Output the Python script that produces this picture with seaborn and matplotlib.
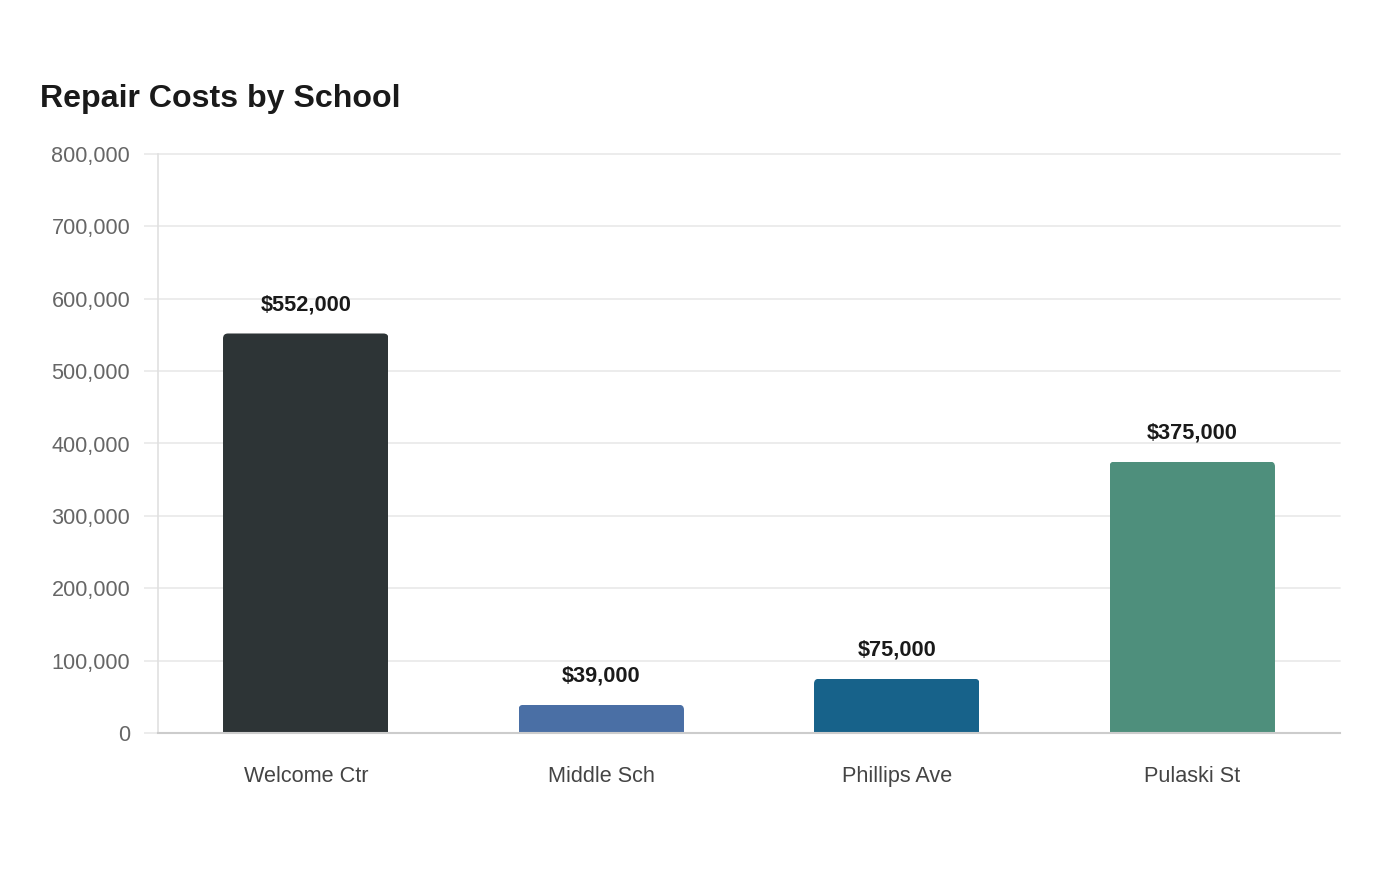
import matplotlib
matplotlib.use("Agg")
import matplotlib.pyplot as plt
import seaborn as sns
import pandas as pd
from matplotlib.patches import FancyBboxPatch
from matplotlib.ticker import FuncFormatter, MultipleLocator

schools = ["Welcome Ctr", "Middle Sch", "Phillips Ave", "Pulaski St"]
costs = [552000, 39000, 75000, 375000]
colors = ["#2d3436", "#4a6fa5", "#17628a", "#4e8f7c"]
title = "Repair Costs by School"

sns.set_theme(style="white")
plt.rcParams["font.family"] = ["Liberation Sans", "DejaVu Sans"]

df = pd.DataFrame({"school": schools, "cost": costs})

fig = plt.figure(figsize=(14, 8.8), dpi=100)
ax = fig.add_axes([158/1400, 1-733/880, (1340-158)/1400, (733-154)/880])

sns.barplot(data=df, x="school", y="cost", hue="school", palette=colors,
            width=0.56, legend=False, ax=ax, saturation=1, edgecolor="none")

ax.set_ylim(0, 800000)
ax.set_xlim(-0.5, 3.5)
ax.yaxis.set_major_locator(MultipleLocator(100000))
ax.yaxis.set_major_formatter(FuncFormatter(lambda v, p: f"{int(v):,}"))
ax.grid(axis="y", color="#ebebeb", linewidth=1.3)
for gl in ax.get_ygridlines():
    gl.set_clip_on(False)
ax.set_axisbelow(True)
ax.set_xlabel("")
ax.set_ylabel("")
for s in ["top", "right"]:
    ax.spines[s].set_visible(False)
ax.spines["left"].set_color("#e0e0e0")
ax.spines["left"].set_linewidth(1.2)
ax.spines["bottom"].set_color("#cccccc")
ax.spines["bottom"].set_linewidth(1.5)
ax.tick_params(axis="y", length=10, width=1.3, color="#ebebeb", pad=10,
               labelsize=15.6, labelcolor="#666666", left=True)
ax.tick_params(axis="x", length=0, pad=24, labelsize=15.6, labelcolor="#444444")

for bar, val in zip(ax.patches, costs):
    ax.annotate(f"${val:,}", (bar.get_x() + bar.get_width()/2, bar.get_height()),
                xytext=(0, 16.5), textcoords="offset points", ha="center",
                va="baseline", fontsize=15.7, fontweight="bold", color="#1a1a1a")

fig.text(40/1400, 1-107/880, title, fontsize=23.1, fontweight="bold",
         color="#1a1a1a", ha="left", va="baseline")

# rounded top corners via clip paths in display coordinates
fig.canvas.draw()
r = 5
for bar in ax.patches:
    bb = bar.get_window_extent()
    clip = FancyBboxPatch((bb.x0, bb.y0 - 2*r), bb.width, bb.height + 2*r,
                          boxstyle=f"round,pad=0,rounding_size={r}",
                          transform=None)
    bar.set_clip_path(clip)

fig.savefig("out.png", dpi=100, facecolor="white")
